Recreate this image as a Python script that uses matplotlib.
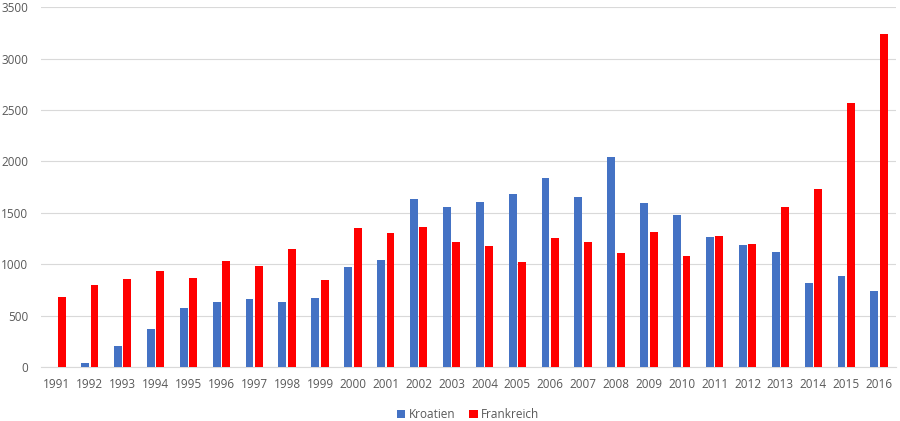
import matplotlib
matplotlib.use("Agg")
import matplotlib.pyplot as plt
import numpy as np

years = [str(y) for y in range(1991, 2017)]
kroatien = [0, 40, 205, 370, 575, 630, 665, 630, 670, 970, 1045, 1635, 1560, 1610,
            1680, 1835, 1655, 2045, 1595, 1480, 1265, 1190, 1115, 820, 890, 740]
frankreich = [680, 800, 860, 930, 870, 1030, 985, 1150, 850, 1355, 1305, 1365, 1215, 1180,
              1020, 1260, 1215, 1110, 1310, 1080, 1270, 1195, 1555, 1730, 2565, 3235]
yticks = [0, 500, 1000, 1500, 2000, 2500, 3000, 3500]

plt.rcParams['font.family'] = ['Open Sans', 'DejaVu Sans']
fig = plt.figure(figsize=(9, 4.21), dpi=100)
ax = fig.add_axes([0.045, 0.128, 0.95, 0.855])

x = np.arange(len(years))
w = 0.24
ax.bar(x - 0.143, kroatien, w, color='#4472C4', label='Kroatien', zorder=3)
ax.bar(x + 0.143, frankreich, w, color='#FF0000', label='Frankreich', zorder=3)

ax.set_xlim(-0.5, len(years) - 0.5)
ax.set_ylim(0, 3500)
ax.set_yticks(yticks)
ax.set_xticks(x)
ax.set_xticklabels(years)
ax.grid(axis='y', color='#D9D9D9', linewidth=0.8, zorder=0)
for s in ['top', 'right', 'left']:
    ax.spines[s].set_visible(False)
ax.spines['bottom'].set_color('#D9D9D9')
ax.tick_params(axis='both', length=0, labelsize=8.5, labelcolor='#595959')
ax.tick_params(axis='x', pad=8)
ax.tick_params(axis='y', pad=9)

ax.legend(loc='upper center', bbox_to_anchor=(0.5, -0.085), ncol=2, frameon=False,
          fontsize=8.5, labelcolor='#595959', handlelength=0.7, handleheight=0.7,
          handletextpad=0.3, columnspacing=1.2)

fig.savefig('out.png', dpi=100)
